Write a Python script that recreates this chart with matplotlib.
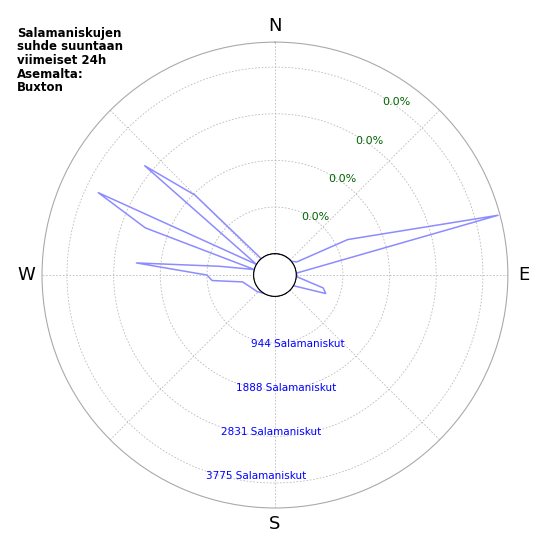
import numpy as np
import matplotlib
matplotlib.use("Agg")
import matplotlib.pyplot as plt

# lightning strike counts by direction (bearing in degrees, clockwise from N)
bearings = [0, 10, 20, 30, 40, 50, 59, 64, 75, 85, 95, 105, 110, 120, 150, 180, 210,
            227, 258, 265, 270, 275, 279, 285, 290, 295, 300, 310, 315, 320, 340, 360]
counts = [0, 0, 0, 0, 0, 0, 85, 1207, 4240, 0, 30, 580, 661, 0, 0, 0, 0,
          60, 236, 843, 944, 2380, 700, 0, 2360, 3512, 0, 3007, 1854, 0, 0, 0]
ring_values = [944, 1888, 2831, 3775]
ring_labels = ["944 Salamaniskut", "1888 Salamaniskut", "2831 Salamaniskut", "3775 Salamaniskut"]
pct_labels = ["0.0%", "0.0%", "0.0%", "0.0%"]
title = "Salamaniskujen\nsuhde suuntaan\nviimeiset 24h\nAsemalta:\nBuxton"

fig = plt.figure(figsize=(5.5, 5.5), dpi=100)
ax = fig.add_axes([0.0764, 0.0764, 0.847, 0.847], projection="polar")
ax.set_theta_zero_location("N")
ax.set_theta_direction(-1)
ax.set_rlim(0, 4280)
ax.set_rorigin(-431)

ax.plot(np.radians(bearings), counts, color="#8c8cff", lw=1.1)

# hole outline
th = np.linspace(0, 2 * np.pi, 200)
ax.plot(th, np.zeros_like(th), color="black", lw=0.6)

ax.set_rticks(ring_values)
ax.set_yticklabels([])
ax.set_thetagrids(range(0, 360, 45), ["N", "", "E", "", "S", "", "W", ""], fontsize=13)
ax.tick_params(axis="x", pad=1)
ax.grid(True, color="#bbbbbb", linestyle=(0, (2, 2)), lw=0.6)
ax.spines["polar"].set_color("#aaaaaa")
ax.spines["polar"].set_linewidth(0.8)

for v, t in zip(ring_values, pct_labels):
    ax.text(np.radians(35), v + 60, t, color="darkgreen", fontsize=8, ha="center", va="center")
for v, t in zip(ring_values, ring_labels):
    ax.text(np.radians(199), v + 100, t, color="blue", fontsize=7.5, ha="left", va="center")

fig.text(17 / 550, 1 - 27 / 550, title, fontsize=8.5, fontweight="bold", ha="left", va="top",
         linespacing=1.05)

fig.savefig("out.png", dpi=100)
